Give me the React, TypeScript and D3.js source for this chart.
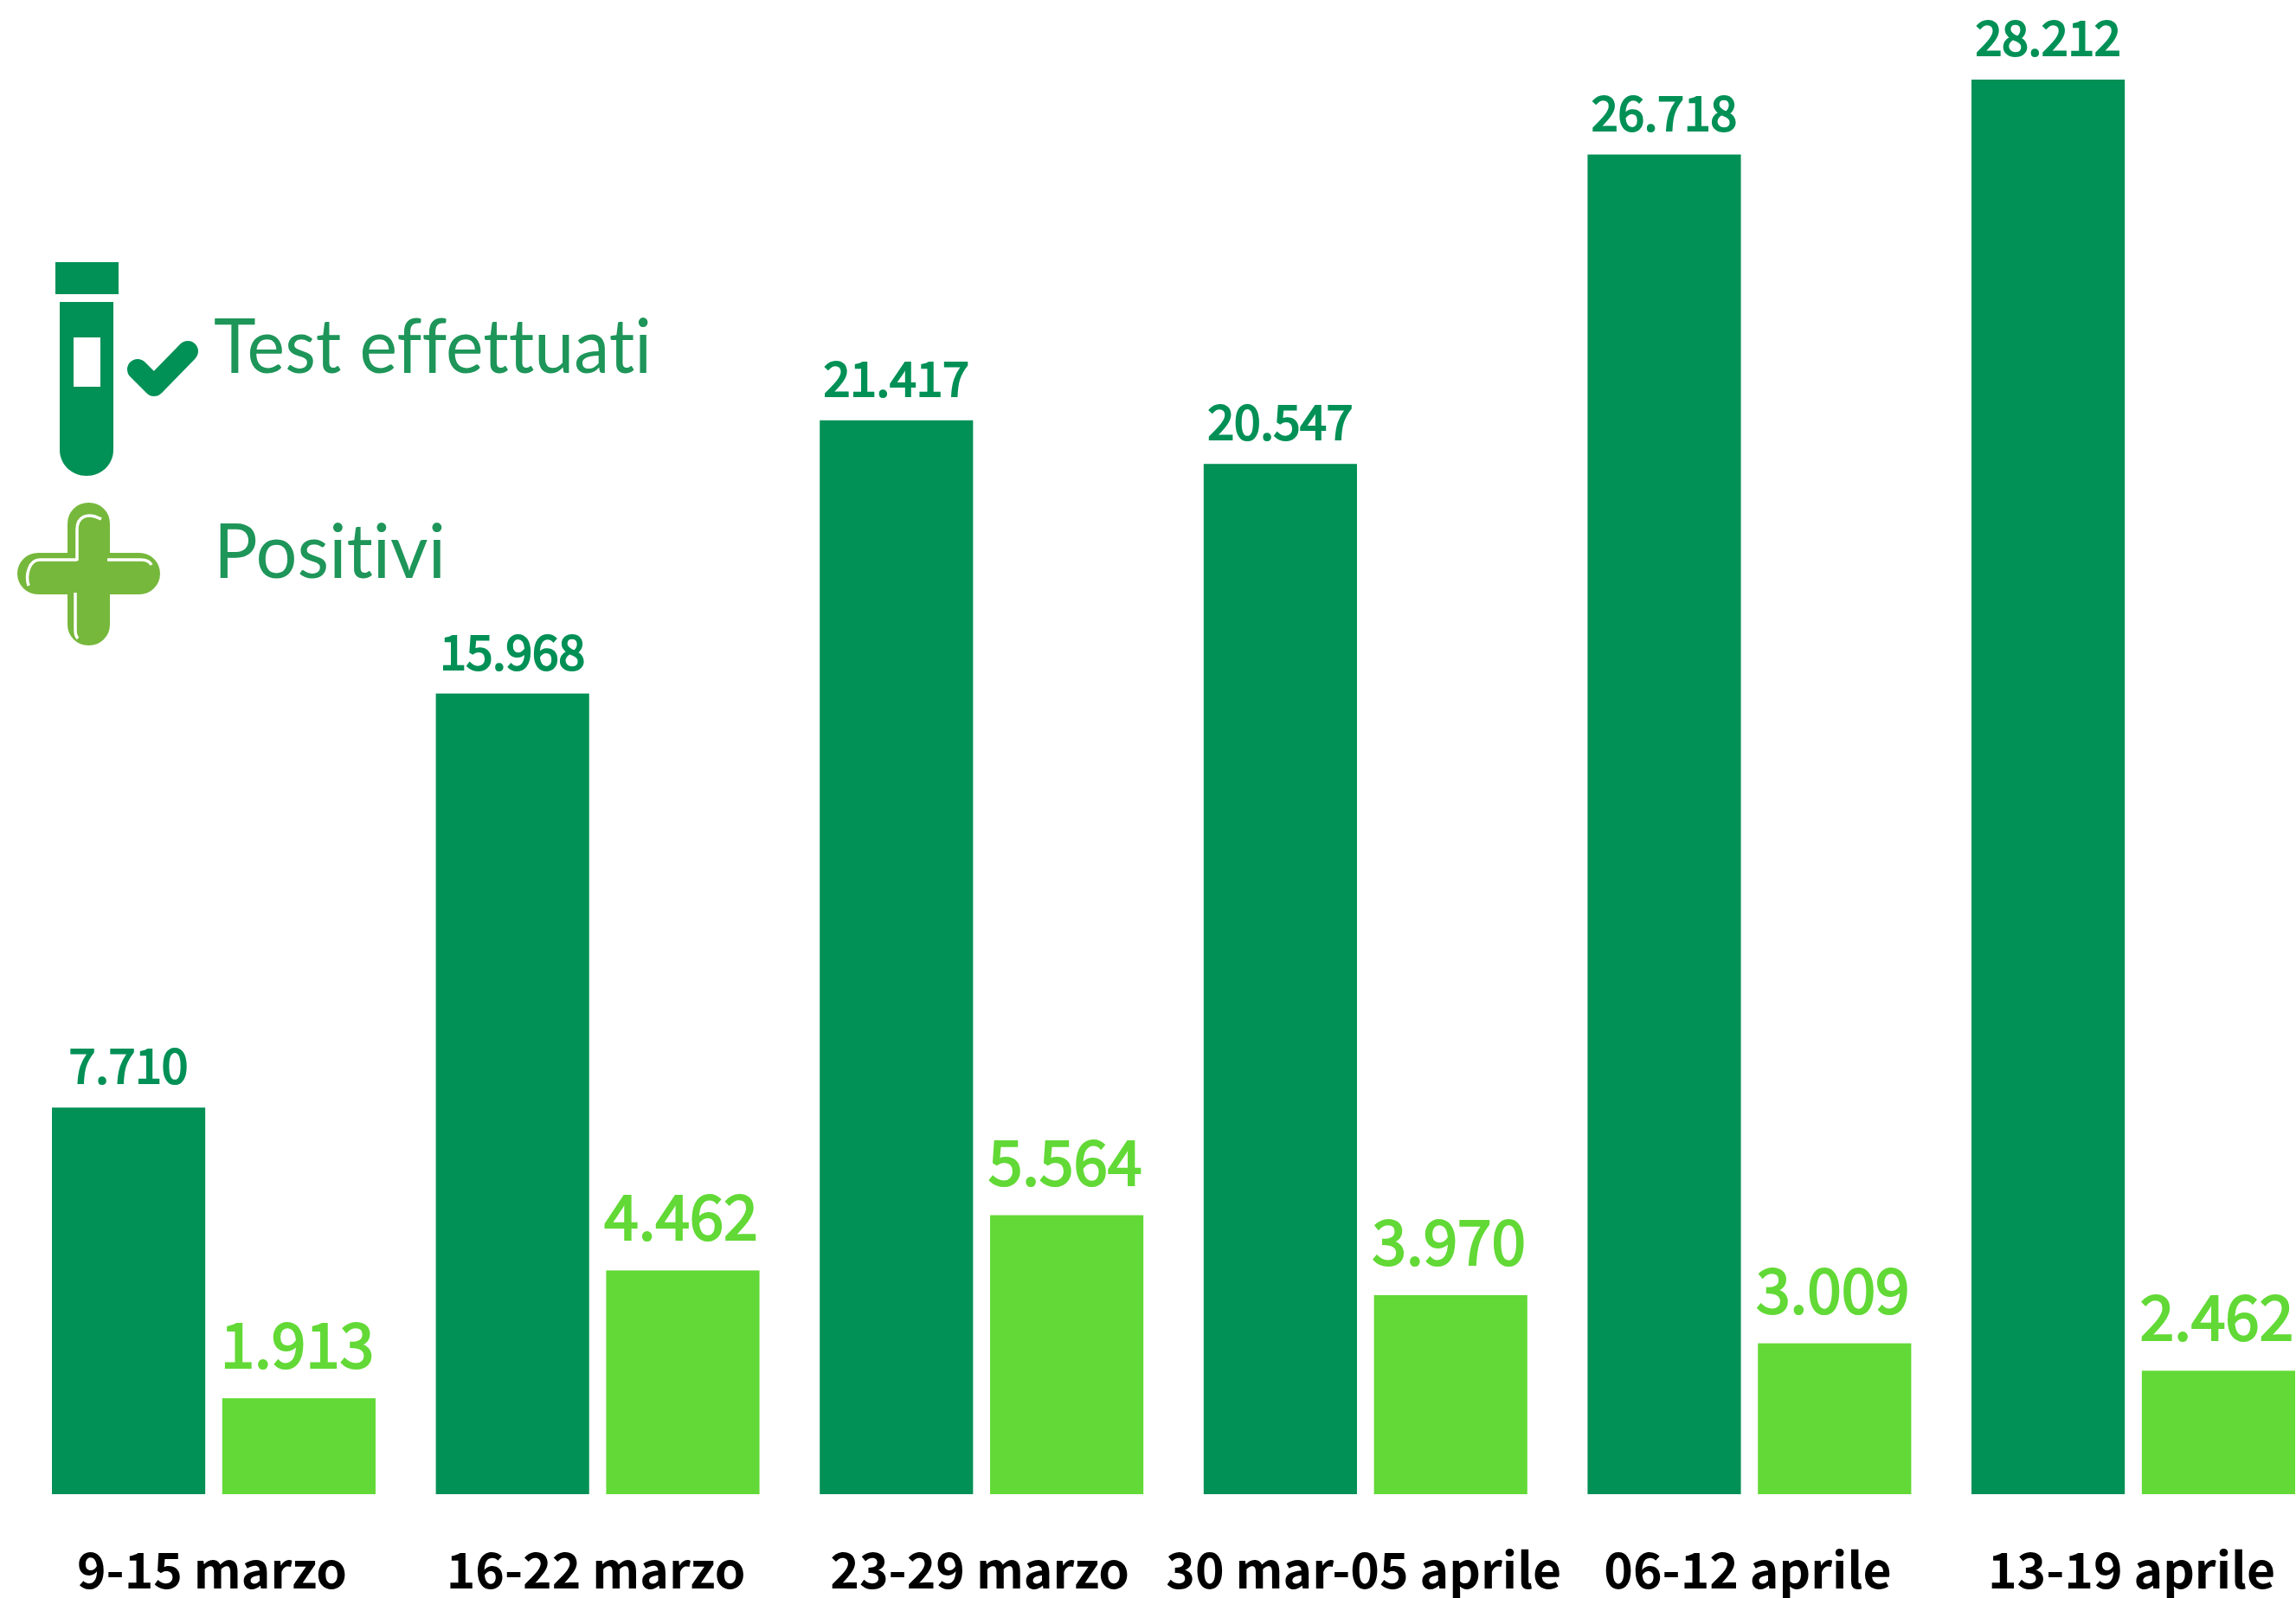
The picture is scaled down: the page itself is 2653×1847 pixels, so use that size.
import React from 'react'
import * as d3 from 'd3'

const weeks = ['9-15 marzo', '16-22 marzo', '23-29 marzo', '30 mar-05 aprile', '06-12 aprile', '13-19 aprile']
const testValues = [7710, 15968, 21417, 20547, 26718, 28212]
const positiveValues = [1913, 4462, 5564, 3970, 3009, 2462]
const seriesKeys = ['test', 'pos']

const DARK = '#019056'
const LIGHT = '#62d936'
const LEGEND_TEXT = '#1e9559'
const PLUS = '#76b83c'
const LABEL_FONT = '"Noto Sans CJK SC", "Noto Sans", sans-serif'

const width = 2653
const height = 1847
const baseline = 1727

const fmt = (v: number) => d3.format(',')(v).replace(',', '.')

export default function App() {
  // Scales
  const x0 = d3.scaleBand().domain(weeks).range([60, 2652]).paddingInner(0.157).paddingOuter(0)
  const x1 = d3.scaleBand().domain(seriesKeys).range([0, x0.bandwidth()]).paddingInner(0.1).paddingOuter(0)
  const y = d3.scaleLinear().domain([0, 28212]).range([baseline, 92])

  return (
    <svg width={width} height={height} style={{ position: 'absolute', left: 0, top: 0, background: '#fff' }}>
      {weeks.map((w, i) => {
        const gx = x0(w) as number
        const tx = gx + (x1('test') as number)
        const px = gx + (x1('pos') as number)
        const bw = x1.bandwidth()
        return (
          <g key={w}>
            <rect x={tx} y={y(testValues[i])} width={bw} height={baseline - y(testValues[i])} fill={DARK} />
            <rect x={px} y={y(positiveValues[i])} width={bw} height={baseline - y(positiveValues[i])} fill={LIGHT} />
            {/* regular weight plus a thin stroke, the installed font has no medium */}
            <text x={tx + bw / 2} y={y(testValues[i]) - 28} textAnchor="middle"
              fontFamily={LABEL_FONT} fontSize={55} fill={DARK} stroke={DARK} strokeWidth={2.2}>{fmt(testValues[i])}</text>
            <text x={px + bw / 2 - 2} y={y(positiveValues[i]) - 35} textAnchor="middle"
              fontFamily={LABEL_FONT} fontSize={71} fill={LIGHT} stroke={LIGHT} strokeWidth={2.2}>{fmt(positiveValues[i])}</text>
            <text x={gx + x0.bandwidth() / 2 - 2} y={1836} textAnchor="middle"
              fontFamily={LABEL_FONT} fontWeight={700} fontSize={57} fill="#000">{w}</text>
          </g>
        )
      })}

      {/* Legend: test tube */}
      <rect x={64} y={303} width={73} height={37} fill={DARK} />
      <path d="M69 349H131V520C131 537 117 550 100 550C83 550 69 537 69 520Z" fill={DARK} />
      <rect x={85} y={390} width={31} height={57} fill="#fff" />
      <path d="M159 427L178 446L217 406" fill="none" stroke={DARK} strokeWidth={24} strokeLinecap="round" strokeLinejoin="round" />
      <text x={247} y={431} fontFamily="Lato, sans-serif" fontSize={88} fill={LEGEND_TEXT}
        textLength={506} lengthAdjust="spacingAndGlyphs" style={{ fontVariantLigatures: 'none' }}>Test effettuati</text>

      {/* Legend: plus */}
      <rect x={78} y={581} width={49} height={165} rx={24} fill={PLUS} />
      <rect x={20} y={639} width={165} height={48} rx={24} fill={PLUS} />
      <g fill="none" stroke="#fff" strokeWidth={3.5}>
        <path d="M89 648V612C89 598 100 591 117 600" />
        <path d="M89 647H46C34 647 29 664 33 677" />
        <path d="M124 647H163C169 647 173 649 175 653" />
        <path d="M87 685V728C87 733 88 736 90 738" />
      </g>
      <text x={247} y={668} fontFamily="Lato, sans-serif" fontSize={88} fill={LEGEND_TEXT}
        textLength={268} lengthAdjust="spacingAndGlyphs" style={{ fontVariantLigatures: 'none' }}>Positivi</text>
    </svg>
  )
}
